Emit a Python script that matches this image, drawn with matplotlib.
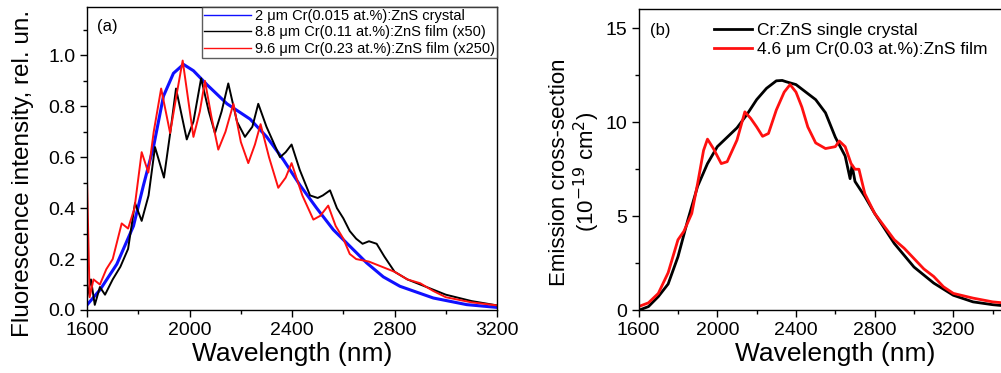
import matplotlib
matplotlib.use("Agg")
import matplotlib.pyplot as plt
from matplotlib.ticker import MultipleLocator, FixedLocator

plt.rcParams['font.family'] = ['Liberation Sans', 'DejaVu Sans']

# ---- panel (a) data: fluorescence spectra (rel. un.) ----
wl_crystal = [1600, 1651, 1716, 1781, 1820, 1859, 1898, 1937, 1976, 2015, 2068, 2146,
              2236, 2301, 2366, 2431, 2496, 2561, 2626, 2691, 2756, 2821, 2951, 3081, 3200]
int_crystal = [0.02, 0.08, 0.18, 0.33, 0.49, 0.64, 0.84, 0.93, 0.965, 0.94, 0.885, 0.81,
               0.75, 0.68, 0.59, 0.49, 0.40, 0.315, 0.25, 0.185, 0.13, 0.093, 0.047, 0.021, 0.01]

wl_film88 = [1600, 1615, 1630, 1650, 1670, 1700, 1730, 1760, 1787, 1813, 1840, 1865, 1900,
             1925, 1947, 1989, 2015, 2045, 2075, 2099, 2125, 2151, 2185, 2216, 2245, 2268,
             2300, 2353, 2375, 2398, 2430, 2470, 2500, 2520, 2548, 2575, 2600, 2625, 2650,
             2675, 2700, 2730, 2760, 2800, 2850, 2900, 2950, 3000, 3100, 3200]
int_film88 = [0.05, 0.12, 0.02, 0.09, 0.06, 0.12, 0.17, 0.24, 0.42, 0.35, 0.45, 0.64, 0.52,
              0.70, 0.87, 0.67, 0.74, 0.91, 0.78, 0.695, 0.78, 0.89, 0.74, 0.68, 0.72, 0.81,
              0.72, 0.60, 0.62, 0.65, 0.55, 0.45, 0.44, 0.45, 0.47, 0.40, 0.36, 0.31, 0.28,
              0.26, 0.27, 0.26, 0.21, 0.15, 0.12, 0.10, 0.08, 0.06, 0.035, 0.018]

wl_film96 = [1600, 1610, 1625, 1650, 1675, 1700, 1735, 1760, 1785, 1813, 1839, 1860, 1889,
             1924, 1950, 1973, 2015, 2040, 2060, 2085, 2112, 2140, 2171, 2200, 2229, 2255,
             2277, 2310, 2346, 2375, 2398, 2440, 2483, 2510, 2541, 2570, 2600, 2625, 2650,
             2700, 2750, 2800, 2850, 2900, 2950, 3000, 3100, 3200]
int_film96 = [0.50, 0.05, 0.12, 0.10, 0.16, 0.20, 0.34, 0.32, 0.40, 0.62, 0.54, 0.70, 0.87,
              0.695, 0.85, 0.98, 0.68, 0.78, 0.90, 0.76, 0.63, 0.70, 0.81, 0.66, 0.577, 0.65,
              0.73, 0.60, 0.48, 0.52, 0.577, 0.45, 0.355, 0.37, 0.41, 0.33, 0.28, 0.22, 0.20,
              0.19, 0.17, 0.15, 0.12, 0.105, 0.075, 0.05, 0.03, 0.018]

labels_a = ['2 \u03bcm Cr(0.015 at.%):ZnS crystal',
            '8.8 \u03bcm Cr(0.11 at.%):ZnS film (x50)',
            '9.6 \u03bcm Cr(0.23 at.%):ZnS film (x250)']

# ---- panel (b) data: emission cross-section (1e-19 cm^2) ----
wl_single = [1600, 1650, 1700, 1750, 1800, 1850, 1900, 1950, 2000, 2050, 2100, 2150, 2200,
             2250, 2300, 2330, 2350, 2400, 2450, 2500, 2550, 2600, 2650, 2675, 2685, 2700,
             2750, 2800, 2900, 3000, 3100, 3200, 3300, 3400, 3500]
cs_single = [0.0, 0.2, 0.73, 1.4, 2.85, 4.8, 6.6, 7.8, 8.7, 9.2, 9.7, 10.4, 11.2,
             11.8, 12.2, 12.22, 12.15, 12.0, 11.6, 11.2, 10.5, 9.2, 8.2, 7.0, 7.7, 6.85,
             6.05, 5.15, 3.55, 2.3, 1.45, 0.8, 0.45, 0.3, 0.2]

wl_film46 = [1600, 1650, 1700, 1750, 1800, 1830, 1870, 1900, 1930, 1950, 1980, 2020, 2050,
             2100, 2140, 2170, 2200, 2230, 2260, 2300, 2340, 2370, 2400, 2430, 2460, 2500,
             2550, 2600, 2620, 2650, 2680, 2700, 2720, 2750, 2800, 2850, 2900, 2950, 3000,
             3050, 3100, 3150, 3200, 3300, 3400, 3500]
cs_film46 = [0.2, 0.4, 0.9, 2.0, 3.75, 4.2, 5.15, 6.75, 8.5, 9.1, 8.6, 7.8, 7.9,
             9.05, 10.55, 10.2, 9.75, 9.25, 9.4, 10.65, 11.6, 12.0, 11.6, 10.8, 9.75, 8.9,
             8.6, 8.7, 9.0, 8.7, 7.8, 7.5, 7.5, 6.2, 5.15, 4.45, 3.75, 3.3, 2.75,
             2.2, 1.8, 1.25, 0.9, 0.65, 0.45, 0.35]

labels_b = ['Cr:ZnS single crystal', '4.6 \u03bcm Cr(0.03 at.%):ZnS film']
xticks_b = [1600, 2000, 2400, 2800, 3200]


def style_axes(ax):
    ax.tick_params(which='both', direction='out', top=False, right=False,
                   labelsize=14, width=1)
    ax.tick_params(which='major', length=5)
    ax.tick_params(which='minor', length=3)
    for s in ax.spines.values():
        s.set_linewidth(1)


fig = plt.figure(figsize=(10.01, 3.73), dpi=100)

# panel (a)
ax1 = fig.add_axes([0.087, 0.169, 0.4096, 0.812])
ax1.plot(wl_crystal, int_crystal, color='#1010ff', lw=2.2, label=labels_a[0])
ax1.plot(wl_film88, int_film88, color='black', lw=1.4, label=labels_a[1])
ax1.plot(wl_film96, int_film96, color='#ff1010', lw=1.4, label=labels_a[2])
ax1.set_xlim(1600, 3200)
ax1.set_ylim(0, 1.19)
ax1.xaxis.set_major_locator(MultipleLocator(400))
ax1.xaxis.set_minor_locator(MultipleLocator(200))
ax1.yaxis.set_major_locator(MultipleLocator(0.2))
ax1.yaxis.set_minor_locator(MultipleLocator(0.1))
ax1.yaxis.set_major_formatter(plt.FormatStrFormatter('%.1f'))
style_axes(ax1)
ax1.set_xlabel('Wavelength (nm)', fontsize=19, labelpad=2)
ax1.set_ylabel('Fluorescence intensity, rel. un.', fontsize=17.5)
ax1.yaxis.set_label_coords(-0.13, 0.45)
ax1.text(0.025, 0.96, '(a)', transform=ax1.transAxes, fontsize=12, va='top')
leg1 = ax1.legend(loc='upper right', fontsize=10.5, frameon=True, fancybox=False,
                  edgecolor='#333333', borderaxespad=0, handlelength=3.2,
                  handletextpad=0.3, borderpad=0.15, labelspacing=0.15)
leg1.get_frame().set_linewidth(1)
for h in leg1.get_lines():
    h.set_linewidth(1)

# panel (b)
ax2 = fig.add_axes([0.638, 0.168, 0.393, 0.807])
ax2.plot(wl_single, cs_single, color='black', lw=2, label=labels_b[0])
ax2.plot(wl_film46, cs_film46, color='#ff1010', lw=2, label=labels_b[1])
ax2.set_xlim(1600, 3600)
ax2.set_ylim(0, 16)
ax2.xaxis.set_major_locator(FixedLocator(xticks_b))
ax2.xaxis.set_minor_locator(MultipleLocator(200))
ax2.yaxis.set_major_locator(MultipleLocator(5))
ax2.yaxis.set_minor_locator(MultipleLocator(2.5))
style_axes(ax2)
ax2.set_xlabel('Wavelength (nm)', fontsize=19, labelpad=2)
ax2.set_ylabel('Emission cross-section\n(10$^{\\mathsf{-19}}$ cm$^{\\mathsf{2}}$)', fontsize=16,
               linespacing=1.1)
ax2.yaxis.set_label_coords(-0.093, 0.46)
ax2.text(0.028, 0.955, '(b)', transform=ax2.transAxes, fontsize=12, va='top')
ax2.legend(loc='upper left', bbox_to_anchor=(0.155, 1.0), fontsize=12.5, frameon=False,
           handlelength=2.2, handletextpad=0.3, borderpad=0.3, labelspacing=0.2)

fig.savefig('out.png', dpi=100)
